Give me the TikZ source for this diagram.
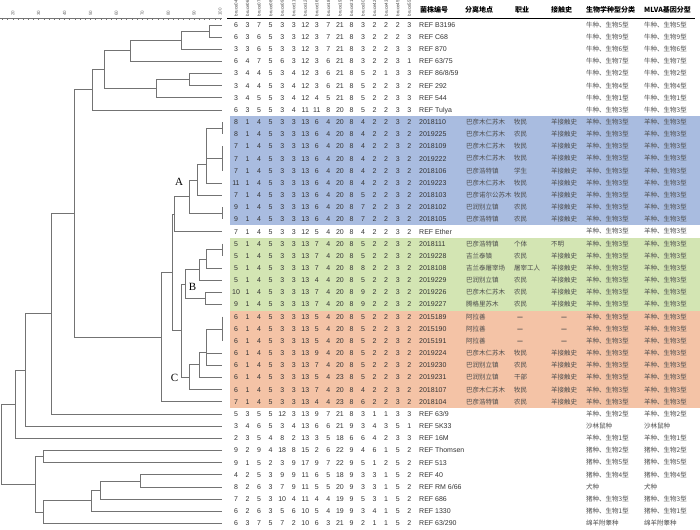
\documentclass[tikz,border=0pt]{standalone}
\usepackage{fontspec}
\setmainfont{Liberation Sans}
\newfontfamily\cjk{Noto Sans CJK SC}
\newfontfamily\clfont{Liberation Serif}
\definecolor{bandA}{HTML}{A9BCE0}
\definecolor{bandB}{HTML}{D3E5B3}
\definecolor{bandC}{HTML}{F4C3A6}
\tikzset{
  treeline/.style={draw=black!55, line width=0.6pt},
  val/.style={font=\fontsize{7}{7}\selectfont, text=black!80, inner sep=0pt, text height=5pt, text depth=0pt},
  strain/.style={font=\fontsize{7}{7}\selectfont, text=black!80, anchor=west, inner sep=0pt, text height=5pt, text depth=0pt},
  info/.style={font=\cjk\fontsize{6.5}{6.5}\selectfont, text=black!70, anchor=west, inner sep=0pt, text height=5.4pt, text depth=0.6pt},
  head/.style={font=\cjk\bfseries\fontsize{7}{7}\selectfont, anchor=west, inner sep=0pt},
  locus/.style={font=\fontsize{4.5}{4.5}\selectfont, text=black!75, rotate=90, anchor=west, inner sep=0pt},
  scalelab/.style={font=\fontsize{4.5}{4.5}\selectfont, text=black!60, rotate=90, anchor=west, inner sep=0pt},
  cladelab/.style={font=\clfont\fontsize{11}{11}\selectfont, inner sep=0pt}
}
\newcommand{\clade}[5]{\draw[treeline] (#4,#2) -- (#1,#2) -- (#1,#3) -- (#5,#3);}
\begin{document}
\begin{tikzpicture}[x=1pt, y=-12.16pt, line join=miter]
  \def\lx{222}\def\colx{236}\def\cold{11.55}
  \useasboundingbox (0,-1.0395) rectangle (700,42.464);
  % colour bands of the three clusters
  \fill[bandA] (230,8.5) rectangle (700,17.5);
  \fill[bandB] (230,18.5) rectangle (700,24.5);
  \fill[bandC] (230,24.5) rectangle (700,32.5);
  % similarity scale
  \draw[treeline] (0,0.466) -- (\lx,0.466);
  \foreach \s in {16,18,...,100} \draw[treeline] ({220-(100-\s)*2.59},0.466) -- ++(0,0.12);
  \foreach \s in {20,30,...,100} \node[scalelab] (sc\s) at ({220-(100-\s)*2.59},0.276) {\s};
  % header
  \foreach \lc [count=\c] in {04,06,07,08,09,11,12,16,18,19,21,30,42,43,45,55}
    \node[locus] (h\c) at ({\colx+(\c-1)*\cold},0.317) {bruce\lc};
  \draw[line width=1.2pt] (227,0.466) -- (695,0.466);
  \node[head] (hname) at (420,-0.217) {菌株编号};
  \node[head] (hplace) at (465,-0.217) {分离地点};
  \node[head] (hjob) at (515,-0.217) {职业};
  \node[head] (hcont) at (551,-0.217) {接触史};
  \node[head] (hbio) at (586,-0.217) {生物学种型分类};
  \node[head] (hmlva) at (644,-0.217) {MLVA基因分型};
  % MLVA-16 repeat numbers
  \foreach \vals [count=\r] in {
    {6,3,7,5,3,3,12,3,7,21,8,3,2,2,2,3},{6,3,6,5,3,3,12,3,7,21,8,3,2,2,2,3},
    {3,3,6,5,3,3,12,3,7,21,8,3,2,2,3,3},{6,4,7,5,6,3,12,3,6,21,8,3,2,2,3,1},
    {3,4,4,5,3,4,12,3,6,21,8,5,2,1,3,3},{3,4,4,5,3,4,12,3,6,21,8,5,2,2,3,2},
    {3,4,5,5,3,4,12,4,5,21,8,5,2,2,3,3},{6,3,5,5,3,4,11,11,8,20,8,5,2,2,3,3},
    {8,1,4,5,3,3,13,6,4,20,8,4,2,2,3,2},{8,1,4,5,3,3,13,6,4,20,8,4,2,2,3,2},
    {7,1,4,5,3,3,13,6,4,20,8,4,2,2,3,2},{7,1,4,5,3,3,13,6,4,20,8,4,2,2,3,2},
    {7,1,4,5,3,3,13,6,4,20,8,4,2,2,3,2},{11,1,4,5,3,3,13,6,4,20,8,4,2,2,3,2},
    {7,1,4,5,3,3,13,6,4,20,8,5,2,2,3,2},{9,1,4,5,3,3,13,6,4,20,8,7,2,2,3,2},
    {9,1,4,5,3,3,13,6,4,20,8,7,2,2,3,2},{7,1,4,5,3,3,12,5,4,20,8,4,2,2,3,2},
    {5,1,4,5,3,3,13,7,4,20,8,5,2,2,3,2},{5,1,4,5,3,3,13,7,4,20,8,5,2,2,3,2},
    {5,1,4,5,3,3,13,7,4,20,8,8,2,2,3,2},{5,1,4,5,3,3,13,4,4,20,8,5,2,2,3,2},
    {10,1,4,5,3,3,13,7,4,20,8,9,2,2,3,2},{9,1,4,5,3,3,13,7,4,20,8,9,2,2,3,2},
    {6,1,4,5,3,3,13,5,4,20,8,5,2,2,3,2},{6,1,4,5,3,3,13,5,4,20,8,5,2,2,3,2},
    {6,1,4,5,3,3,13,5,4,20,8,5,2,2,3,2},{6,1,4,5,3,3,13,9,4,20,8,5,2,2,3,2},
    {6,1,4,5,3,3,13,7,4,20,8,5,2,2,3,2},{6,1,4,5,3,3,13,5,4,23,8,5,2,2,3,2},
    {6,1,4,5,3,3,13,7,4,20,8,4,2,2,3,2},{7,1,4,5,3,3,13,4,4,23,8,6,2,2,3,2},
    {5,3,5,5,12,3,13,9,7,21,8,3,1,1,3,3},{3,4,6,5,3,4,13,6,6,21,9,3,4,3,5,1},
    {2,3,5,4,8,2,13,3,5,18,6,6,4,2,3,3},{9,2,9,4,18,8,15,2,6,22,9,4,6,1,5,2},
    {9,1,5,2,3,9,17,9,7,22,9,5,1,2,5,2},{4,2,5,3,9,9,11,6,5,18,9,3,3,1,5,2},
    {8,2,6,3,7,9,11,5,5,20,9,3,3,1,5,2},{7,2,5,3,10,4,11,4,4,19,9,5,3,1,5,2},
    {6,2,6,3,5,6,10,5,4,19,9,3,4,1,5,2},{6,3,7,5,7,2,10,6,3,21,9,2,1,1,5,2}}
    {\foreach \v [count=\c] in \vals \node[val] (v\r-\c) at ({\colx+(\c-1)*\cold},\r) {\v};}
  % strain numbers
  \foreach \nm [count=\r] in {REF B3196,REF C68,REF 870,REF 63/75,REF 86/8/59,REF 292,REF 544,REF Tulya,
    2018110,2019225,2018109,2019222,2018106,2019223,2018103,2018102,2018105,REF Ether,
    2018111,2019228,2018108,2019229,2019226,2019227,
    2015189,2015190,2015191,2019224,2019230,2019231,2018107,2018104,
    REF 63/9,REF 5K33,REF 16M,REF Thomsen,REF 513,REF 40,REF RM 6/66,REF 686,REF 1330,REF 63/290}
    \node[strain] (s\r) at (419,\r) {\nm};
  % place, occupation, contact
  \foreach \r/\pl/\jb/\ct in {9/巴彦木仁苏木/牧民/羊接触史,10/巴彦木仁苏木/农民/羊接触史,
    11/巴彦木仁苏木/牧民/羊接触史,12/巴彦木仁苏木/牧民/羊接触史,13/巴彦浩特镇/学生/羊接触史,
    14/巴彦木仁苏木/牧民/羊接触史,15/巴彦诺尔公苏木/牧民/羊接触史,16/巴润别立镇/农民/羊接触史,
    17/巴彦浩特镇/农民/羊接触史,19/巴彦浩特镇/个体/不明,20/吉兰泰镇/农民/羊接触史,
    21/吉兰泰屠宰场/屠宰工人/羊接触史,22/巴润别立镇/农民/羊接触史,23/巴彦木仁苏木/农民/羊接触史,
    24/腾格里苏木/农民/羊接触史,28/巴彦木仁苏木/牧民/羊接触史,29/巴润别立镇/农民/羊接触史,
    30/巴润别立镇/干部/羊接触史,31/巴彦木仁苏木/牧民/羊接触史,32/巴彦浩特镇/农民/羊接触史}
    {\node[info] (p\r) at (466,\r) {\pl};
     \node[info] (j\r) at (514,\r) {\jb};
     \node[info] (c\r) at (551,\r) {\ct};}
  \foreach \r in {25,26,27}
    {\node[info] (p\r) at (466,\r) {阿拉善};
     \node[info, anchor=center, font=\cjk\bfseries\fontsize{6.5}{6.5}\selectfont] (j\r) at (520,\r) {—};
     \node[info, anchor=center, font=\cjk\bfseries\fontsize{6.5}{6.5}\selectfont] (c\r) at (564,\r) {—};}
  % biotype and MLVA genotype
  \foreach \bt [count=\r] in {牛种、生物5型,牛种、生物9型,牛种、生物6型,牛种、生物7型,牛种、生物2型,
    牛种、生物4型,牛种、生物1型,牛种、生物3型,
    羊种、生物3型,羊种、生物3型,羊种、生物3型,羊种、生物3型,羊种、生物3型,羊种、生物3型,
    羊种、生物3型,羊种、生物3型,羊种、生物3型,羊种、生物3型,羊种、生物3型,羊种、生物3型,
    羊种、生物3型,羊种、生物3型,羊种、生物3型,羊种、生物3型,羊种、生物3型,羊种、生物3型,
    羊种、生物3型,羊种、生物3型,羊种、生物3型,羊种、生物3型,羊种、生物3型,羊种、生物3型,
    羊种、生物2型,沙林鼠种,羊种、生物1型,猪种、生物2型,猪种、生物5型,猪种、生物4型,
    犬种,猪种、生物3型,猪种、生物1型,绵羊附睾种}
    {\node[info] (b\r) at (586,\r) {\bt};
     \node[info] (m\r) at (644,\r) {\bt};}
  % dendrogram
  \clade{209}{1}{2}{\lx}{\lx}
  \clade{181.7}{1.5}{3}{209}{\lx}
  \clade{130}{2.25}{4}{181.7}{\lx}
  \clade{189}{5}{6}{\lx}{\lx}
  \clade{156.7}{5.5}{7}{189}{\lx}
  \clade{104.3}{3.125}{6.25}{130}{156.7}
  \clade{92}{4.69}{8}{104.3}{\lx}
  % cluster A
  \draw[treeline] (\lx,9) -- (\lx,10);
  \draw[treeline] (\lx,11) -- (\lx,13);
  \clade{206}{9.5}{14}{\lx}{\lx}
  \draw[treeline] (206,12) -- (\lx,12);
  \clade{197.3}{12.5}{15}{206}{\lx}
  \draw[treeline] (\lx,16) -- (\lx,17);
  \clade{189.3}{13.75}{16.5}{197.3}{\lx}
  \clade{174.3}{15.1}{18}{189.3}{\lx}
  % cluster B
  \draw[treeline] (\lx,19) -- (\lx,20);
  \clade{206}{19.5}{21}{\lx}{\lx}
  \clade{199.3}{20.25}{22}{206}{\lx}
  \clade{205}{23}{24}{\lx}{\lx}
  \clade{185}{21.1}{23.5}{199.3}{205}
  % cluster C
  \draw[treeline] (\lx,25) -- (\lx,27);
  \clade{206}{26}{29}{\lx}{\lx}
  \draw[treeline] (206,28) -- (\lx,28);
  \clade{199}{27.9}{30}{206}{\lx}
  \clade{189.3}{28.95}{31}{199}{\lx}
  \clade{181.7}{22.3}{29.98}{185}{189.3}
  \clade{172.7}{16.56}{26.14}{174.3}{181.7}
  \clade{161}{21.35}{32}{172.7}{\lx}
  \clade{74}{6.34}{26.68}{92}{161}
  \clade{51.7}{16.51}{33}{74}{\lx}
  \clade{25}{24.75}{34}{51.7}{\lx}
  \clade{15}{29.38}{35}{25}{\lx}
  \clade{43.3}{36}{37}{\lx}{\lx}
  \clade{140}{38}{39}{\lx}{\lx}
  \clade{100}{38.5}{40}{140}{\lx}
  \clade{91.7}{39.25}{41}{100}{\lx}
  \clade{43.3}{40.13}{42}{91.7}{\lx}
  \clade{35}{36.5}{41.06}{43.3}{43.3}
  \clade{1.5}{32.19}{38.78}{15}{35}
  \node[cladelab] (labA) at (179.2,13.9) {A};
  \node[cladelab] (labB) at (192.5,22.56) {B};
  \node[cladelab] (labC) at (174.5,30.02) {C};
\end{tikzpicture}
\end{document}
